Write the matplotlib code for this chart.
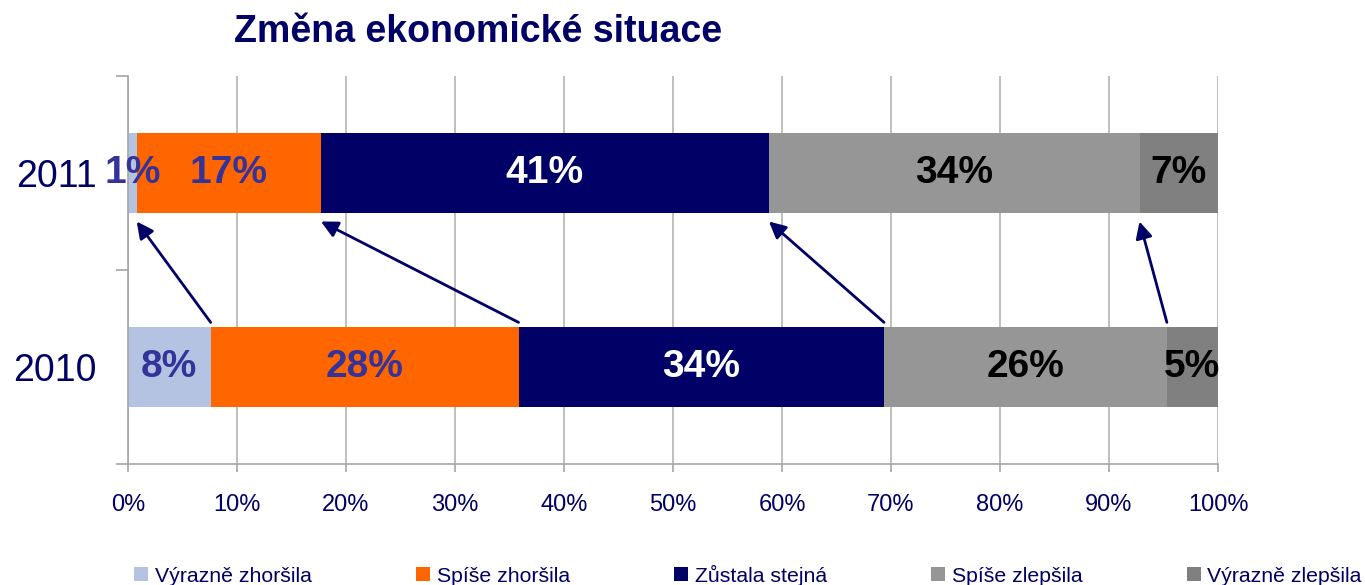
import matplotlib.pyplot as plt
import numpy as np
from matplotlib.ticker import FuncFormatter

plt.rcParams['font.family'] = ['Liberation Sans', 'DejaVu Sans']

years = ['2010', '2011']
categories = ['Výrazně zhoršila', 'Spíše zhoršila', 'Zůstala stejná', 'Spíše zlepšila', 'Výrazně zlepšila']
share_2010 = [7.6, 28.3, 33.6, 26.0, 4.7]
share_2011 = [0.8, 16.9, 41.1, 34.0, 7.2]

colors = ['#B3C3E1', '#FF6600', '#000066', '#969696', '#808080']
label_colors = ['#333399', '#333399', 'white', 'black', 'black']
navy = '#000066'


def main():
    fig = plt.figure(figsize=(13.65, 5.85), dpi=100)
    ax = fig.add_axes([128 / 1365, 1 - 464 / 585, 1090 / 1365, 388 / 585])

    raw = np.array([share_2010, share_2011])
    # 100 % stacked: every row scaled to its own total
    data = raw / raw.sum(axis=1, keepdims=True) * 100
    ypos = np.arange(len(years))
    left = np.zeros(len(years))
    bar_h = 0.41
    for i, cat in enumerate(categories):
        vals = data[:, i]
        ax.barh(ypos, vals, left=left, height=bar_h, color=colors[i], label=cat, zorder=2)
        for y, v, l, r in zip(ypos, vals, left, raw[:, i]):
            ax.text(l + v / 2, y, '%d%%' % round(r), ha='center', va='center',
                    fontsize=28, fontweight='bold', color=label_colors[i], zorder=4)
        left = left + vals

    # arrows between the boundaries of the two years
    cum10 = np.cumsum(data[0])
    cum11 = np.cumsum(data[1])
    for k in range(4):
        ax.annotate('', xy=(cum11[k], 0.75), xytext=(cum10[k], 0.23),
                    arrowprops=dict(arrowstyle='-|>', color=navy, lw=2,
                                    mutation_scale=25, shrinkA=0, shrinkB=0),
                    zorder=5)

    ax.set_xlim(0, 100)
    ax.set_ylim(-0.5, 1.5)
    ax.set_xticks(np.arange(0, 101, 10))
    ax.xaxis.set_major_formatter(FuncFormatter(lambda v, p: '%d%%' % v))
    ax.set_yticks(ypos)
    ax.set_yticklabels(years)
    ax.set_yticks([-0.5, 0.5, 1.5], minor=True)

    ax.xaxis.grid(True, color='#B4B4B4', lw=1.2, zorder=0)
    ax.set_axisbelow(True)
    for s in ['top', 'right']:
        ax.spines[s].set_visible(False)
    for s in ['left', 'bottom']:
        ax.spines[s].set_color('#A6A6A6')
        ax.spines[s].set_linewidth(1.2)

    ax.tick_params(axis='x', direction='out', length=6, width=1.2, color='#A6A6A6',
                   labelsize=17, labelcolor=navy, pad=15.5)
    ax.tick_params(axis='y', which='major', length=0, labelsize=27, labelcolor=navy, pad=22.5)
    ax.tick_params(axis='y', which='minor', direction='out', length=9, width=1.2, color='#A6A6A6')

    fig.text(478 / 1365, 1 - 32 / 585, 'Změna ekonomické situace', ha='center', va='center',
             fontsize=27, fontweight='bold', color=navy)

    leg = fig.legend(loc='center left', bbox_to_anchor=(134 / 1365, 1 - 575 / 585), ncol=5,
                     frameon=False, fontsize=15.3, handlelength=0.68, handleheight=0.68,
                     handletextpad=0.3, columnspacing=4.9, borderpad=0, borderaxespad=0)
    for t in leg.get_texts():
        t.set_color(navy)

    fig.savefig('out.png', dpi=100)


if __name__ == '__main__':
    main()
